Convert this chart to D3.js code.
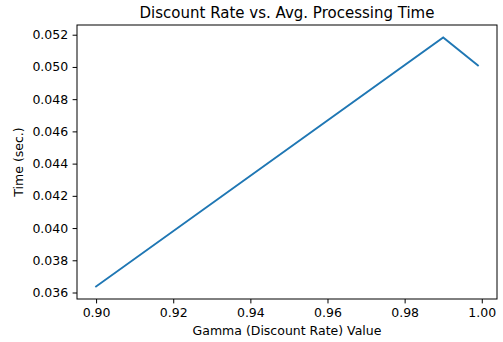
<!DOCTYPE html>
<html>
<head>
<meta charset="utf-8">
<script src="https://cdn.jsdelivr.net/npm/d3@7"></script>
<style>
  html, body { margin: 0; padding: 0; background: #fff; }
  svg { display: block; font-family: "DejaVu Sans", sans-serif; }
</style>
</head>
<body>
<script>
const gammas = [0.9, 0.99, 0.999];
const times = [0.03637, 0.05183, 0.05010];
const xTicks = [0.90, 0.92, 0.94, 0.96, 0.98, 1.00];
const yTicks = [0.036, 0.038, 0.040, 0.042, 0.044, 0.046, 0.048, 0.050, 0.052];
const title = "Discount Rate vs. Avg. Processing Time";
const xLabel = "Gamma (Discount Rate) Value";
const yLabel = "Time (sec.)";

const W = 503, H = 342;
const m = {left: 77, right: 6, top: 25, bottom: 43};
const svg = d3.select("body").append("svg").attr("width", W).attr("height", H);

const xMin = d3.min(gammas), xMax = d3.max(gammas);
const xPad = (xMax - xMin) * 0.05;
const yMin = d3.min(times), yMax = d3.max(times);
const yPad = (yMax - yMin) * 0.05;

const x = d3.scaleLinear().domain([xMin - xPad, xMax + xPad]).range([m.left, W - m.right]);
const y = d3.scaleLinear().domain([yMin - yPad, yMax + yPad]).range([H - m.bottom, m.top]);

const xAxis = svg.append("g").attr("transform", `translate(0,${H - m.bottom})`)
  .call(d3.axisBottom(x).tickValues(xTicks).tickFormat(d3.format(".2f")).tickSize(4.4).tickPadding(5));
const yAxis = svg.append("g").attr("transform", `translate(${m.left},0)`)
  .call(d3.axisLeft(y).tickValues(yTicks).tickFormat(d3.format(".3f")).tickSize(4.4).tickPadding(4.4));
[xAxis, yAxis].forEach(a => {
  a.select(".domain").remove();
  a.selectAll(".tick line").attr("stroke", "#000").attr("stroke-width", 1);
  a.selectAll(".tick text").attr("font-size", 12.5).attr("fill", "#000")
    .attr("font-family", "DejaVu Sans, sans-serif");
});

svg.append("rect")
  .attr("x", m.left).attr("y", m.top)
  .attr("width", W - m.right - m.left).attr("height", H - m.bottom - m.top)
  .attr("fill", "none").attr("stroke", "#000").attr("stroke-width", 1);

const line = d3.line().x((d, i) => x(gammas[i])).y(d => y(d));
svg.append("path").datum(times)
  .attr("d", line).attr("fill", "none")
  .attr("stroke", "#1f77b4").attr("stroke-width", 1.9).attr("stroke-linecap", "square");

svg.append("text").attr("x", (m.left + W - m.right) / 2).attr("y", 18)
  .attr("text-anchor", "middle").attr("font-size", 15).attr("fill", "#000").text(title);
svg.append("text").attr("x", (m.left + W - m.right) / 2).attr("y", 335)
  .attr("text-anchor", "middle").attr("font-size", 12.5).attr("fill", "#000").text(xLabel);
svg.append("text").attr("transform", `translate(23,${(m.top + H - m.bottom) / 2}) rotate(-90)`)
  .attr("text-anchor", "middle").attr("font-size", 12.5).attr("fill", "#000").text(yLabel);
</script>
</body>
</html>
